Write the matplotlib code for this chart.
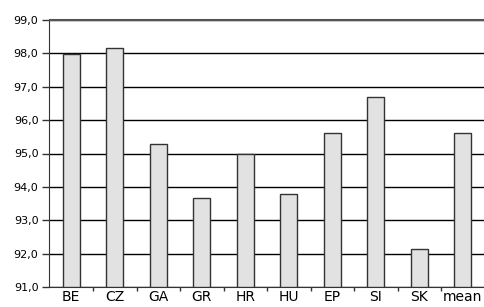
import numpy as np
import matplotlib.pyplot as plt

# data
labels = ['BE', 'CZ', 'GA', 'GR', 'HR', 'HU', 'EP', 'SI', 'SK', 'mean']
values = [97.97, 98.17, 95.27, 93.67, 95.0, 93.8, 95.6, 96.7, 92.15, 95.6]
yticks = [91, 92, 93, 94, 95, 96, 97, 98, 99]

fig = plt.figure(figsize=(4.85, 3.07), dpi=100)
ax = fig.add_axes([49.5/485, 20/307, 435/485, 267/307])

x = np.arange(len(labels))
ax.set_axisbelow(True)
ax.yaxis.grid(True, color='black', linewidth=1.0)
ax.bar(x, np.array(values) - 91, width=0.4, bottom=91, color='#e2e2e2',
       edgecolor='#333333', linewidth=1.0, zorder=3)

ax.set_xlim(-0.5, len(labels) - 0.5)
ax.set_ylim(91, 99)
ax.set_yticks(yticks)
ax.set_yticklabels([('%.1f' % v).replace('.', ',') for v in yticks])
ax.tick_params(axis='y', labelsize=8, length=5, width=1, color='#333333', pad=3)

ax.set_xticks(x)
ax.set_xticklabels(labels, fontsize=10)
ax.tick_params(axis='x', length=0, pad=2.5)
ax.set_xticks(x[:-1] + 0.5, minor=True)
ax.tick_params(axis='x', which='minor', length=3, width=1, color='#333333')

ax.spines['right'].set_visible(False)
ax.spines['top'].set_color('#555555')
ax.spines['top'].set_linewidth(1.5)
ax.spines['left'].set_color('#333333')
ax.spines['bottom'].set_color('#333333')

fig.savefig('out.png', dpi=100)
